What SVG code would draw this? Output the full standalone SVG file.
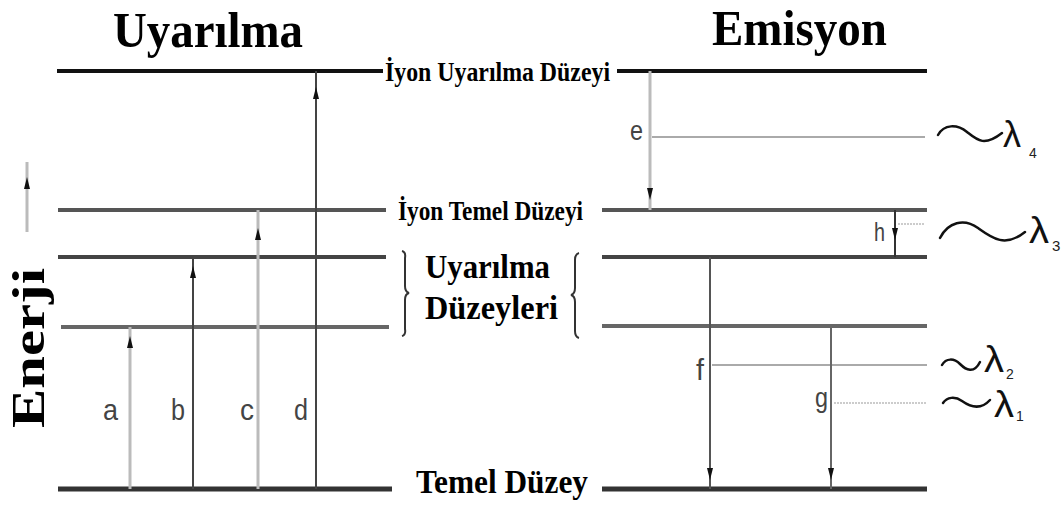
<svg xmlns="http://www.w3.org/2000/svg" xmlns:xlink="http://www.w3.org/1999/xlink" width="1063" height="505" viewBox="0 0 1063 505">
  <style>
    .title { font-family: "Liberation Serif", "Times New Roman", serif; font-weight: bold; fill: #000; }
    .lvl { font-family: "Liberation Serif", "Times New Roman", serif; font-weight: bold; fill: #000; }
    .tag { font-family: "Liberation Sans", Arial, sans-serif; fill: #444; }
    .lam { font-family: "Liberation Sans", "DejaVu Sans", sans-serif; fill: #111; }
    .sub { font-family: "Liberation Sans", Arial, sans-serif; fill: #222; }
    .wave { fill: none; stroke: #111; stroke-width: 2.5; stroke-linecap: round; }
    .brace { fill: none; stroke: #333; stroke-width: 2; }
  </style>
  <defs>
    <path id="head-up" d="M0,0 L-3,12 L3,12 Z" fill="#111"/>
    <path id="head-down" d="M0,0 L-3,-12 L3,-12 Z" fill="#111"/>
  </defs>
  <rect width="1063" height="505" fill="#fff"/>

  <!-- Titles -->
  <text class="title" x="113" y="47" font-size="50" textLength="190" lengthAdjust="spacingAndGlyphs">Uyarılma</text>
  <text class="title" x="712" y="45" font-size="50" textLength="175" lengthAdjust="spacingAndGlyphs">Emisyon</text>

  <!-- Energy axis -->
  <g id="energy-axis">
    <line x1="27" y1="162" x2="27" y2="232" stroke="#bbb" stroke-width="3"/>
    <use xlink:href="#head-up" x="27" y="177"/>
    <text class="title" font-size="47" transform="translate(44,428) rotate(-90)" textLength="160" lengthAdjust="spacingAndGlyphs">Enerji</text>
  </g>

  <!-- Energy levels -->
  <g id="level-ion-excited">
    <line x1="57" y1="71" x2="383" y2="71" stroke="#111" stroke-width="4"/>
    <line x1="617" y1="71" x2="927" y2="71" stroke="#111" stroke-width="4"/>
    <text class="lvl" x="385" y="81" font-size="27" textLength="225" lengthAdjust="spacingAndGlyphs">İyon Uyarılma Düzeyi</text>
  </g>
  <g id="level-ion-ground">
    <line x1="58" y1="210" x2="386" y2="210" stroke="#555" stroke-width="4"/>
    <line x1="602" y1="210" x2="927" y2="210" stroke="#555" stroke-width="4"/>
    <text class="lvl" x="398" y="220" font-size="27" textLength="185" lengthAdjust="spacingAndGlyphs">İyon Temel Düzeyi</text>
  </g>
  <g id="level-excited">
    <line x1="58" y1="257" x2="386" y2="257" stroke="#444" stroke-width="4"/>
    <line x1="602" y1="257" x2="927" y2="257" stroke="#444" stroke-width="4"/>
    <line x1="61" y1="327" x2="389" y2="327" stroke="#666" stroke-width="4"/>
    <line x1="602" y1="326" x2="927" y2="326" stroke="#666" stroke-width="4"/>
    <path class="brace" d="M402,251 Q406,252 405,258 L405,286 Q405,292 409,293 Q405,294 405,300 L405,329 Q406,335 402,336"/>
    <path class="brace" d="M579,253 Q575,254 575,260 L575,288 Q575,294 571,295 Q575,296 575,302 L575,331 Q575,337 579,338"/>
    <text class="lvl" x="425" y="278" font-size="33" textLength="125" lengthAdjust="spacingAndGlyphs">Uyarılma</text>
    <text class="lvl" x="425" y="319" font-size="33" textLength="133" lengthAdjust="spacingAndGlyphs">Düzeyleri</text>
  </g>
  <g id="level-ground">
    <line x1="58" y1="489" x2="392" y2="489" stroke="#333" stroke-width="5"/>
    <line x1="602" y1="489" x2="927" y2="489" stroke="#333" stroke-width="5"/>
    <text class="lvl" x="416" y="493" font-size="33" textLength="172" lengthAdjust="spacingAndGlyphs">Temel Düzey</text>
  </g>

  <!-- Transitions -->
  <g id="connectors">
    <!-- excitation -->
    <line x1="130" y1="489" x2="130" y2="327" stroke="#bbb" stroke-width="3"/>
    <use xlink:href="#head-up" x="130" y="336"/>
    <line x1="193" y1="489" x2="193" y2="257" stroke="#444" stroke-width="2"/>
    <use xlink:href="#head-up" x="193" y="266"/>
    <line x1="258" y1="489" x2="258" y2="210" stroke="#bbb" stroke-width="3"/>
    <use xlink:href="#head-up" x="258" y="228"/>
    <line x1="316" y1="489" x2="316" y2="71" stroke="#444" stroke-width="2"/>
    <use xlink:href="#head-up" x="316" y="87"/>

    <!-- emission -->
    <line x1="650" y1="71" x2="650" y2="210" stroke="#bbb" stroke-width="3"/>
    <use xlink:href="#head-down" x="650" y="200"/>
    <line x1="652" y1="137" x2="925" y2="137" stroke="#aaa" stroke-width="2"/>

    <line x1="895" y1="210" x2="895" y2="257" stroke="#333" stroke-width="2"/>
    <use xlink:href="#head-down" x="895" y="240"/>
    <line x1="898" y1="224" x2="925" y2="224" stroke="#ccc" stroke-width="2" stroke-dasharray="2 1"/>

    <line x1="710" y1="257" x2="710" y2="489" stroke="#555" stroke-width="2"/>
    <use xlink:href="#head-down" x="710" y="480"/>
    <line x1="712" y1="365" x2="927" y2="365" stroke="#aaa" stroke-width="2"/>

    <line x1="831" y1="327" x2="831" y2="489" stroke="#666" stroke-width="2"/>
    <use xlink:href="#head-down" x="831" y="480"/>
    <line x1="834" y1="403" x2="927" y2="403" stroke="#ccc" stroke-width="2" stroke-dasharray="2 1"/>
  </g>

  <!-- Transition labels -->
  <g id="labels">
    <text class="tag" x="103" y="420" font-size="30" textLength="15" lengthAdjust="spacingAndGlyphs">a</text>
    <text class="tag" x="171" y="420" font-size="30" textLength="14" lengthAdjust="spacingAndGlyphs">b</text>
    <text class="tag" x="240" y="420" font-size="30" textLength="14" lengthAdjust="spacingAndGlyphs">c</text>
    <text class="tag" x="294" y="420" font-size="30" textLength="14" lengthAdjust="spacingAndGlyphs">d</text>
    <text class="tag" x="630" y="140" font-size="28" textLength="13" lengthAdjust="spacingAndGlyphs">e</text>
    <text class="tag" x="696" y="380" font-size="30" textLength="8" lengthAdjust="spacingAndGlyphs">f</text>
    <text class="tag" x="815" y="407" font-size="28" textLength="13" lengthAdjust="spacingAndGlyphs">g</text>
    <text class="tag" x="874" y="241" font-size="26" textLength="11" lengthAdjust="spacingAndGlyphs">h</text>
  </g>

  <!-- Emitted wavelengths -->
  <g id="lambda-4">
    <path class="wave" d="M938,135 C944,124 957,124 967,132 S984,147 1002,133"/>
    <text class="lam" x="1003" y="147" font-size="36" textLength="18" lengthAdjust="spacingAndGlyphs">λ</text>
    <text class="sub" x="1029" y="158" font-size="14">4</text>
  </g>
  <g id="lambda-3">
    <path class="wave" d="M940,238 C948,222 964,218 978,228 S1005,248 1025,232"/>
    <text class="lam" x="1029" y="243" font-size="36" textLength="20" lengthAdjust="spacingAndGlyphs">λ</text>
    <text class="sub" x="1052" y="251" font-size="15">3</text>
  </g>
  <g id="lambda-2">
    <path class="wave" d="M942,365 C946,358 954,358 960,364 S974,374 980,362"/>
    <text class="lam" x="984" y="372" font-size="36" textLength="20" lengthAdjust="spacingAndGlyphs">λ</text>
    <text class="sub" x="1006" y="379" font-size="14">2</text>
  </g>
  <g id="lambda-1">
    <path class="wave" d="M943,403 C947,397 955,396 962,401 S980,411 990,400"/>
    <text class="lam" x="994" y="417" font-size="36" textLength="20" lengthAdjust="spacingAndGlyphs">λ</text>
    <text class="sub" x="1016" y="421" font-size="14">1</text>
  </g>
</svg>
